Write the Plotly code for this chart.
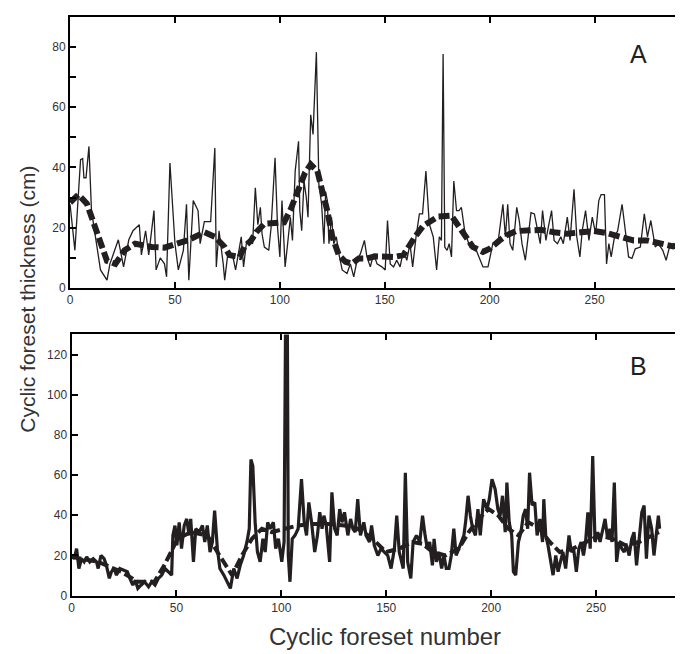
import plotly.graph_objects as go

# ---------------- data ----------------
a_raw_x = [0, 2.3, 5, 6, 6.6, 7.6, 9, 10.2, 14.5, 17.6, 19, 23, 25.5, 28, 30, 33, 34, 36, 37.5, 40, 41, 43, 45, 46,
           47.6, 50, 51.6, 54, 55.5, 56.6, 58.7, 61, 62, 64, 67, 69, 69.7, 71, 73, 73.7, 75.2, 77.6, 78.9, 80, 81.6,
           82.7, 84, 85.5, 87, 88.3, 89.5, 90.7, 91.5, 92.6, 94.7, 95.8, 97.7, 98.9, 100, 101, 102.5, 103.7, 105, 106,
           107.3, 108.9, 109.5, 110.4, 111.5, 112.6, 113.4, 114.7, 115.8, 117.4, 118.6, 119.9, 121, 121.8, 122.6,
           123.4, 124.6, 125.7, 126.9, 128.1, 129.7, 132, 133.6, 135.2, 136.8, 138.4, 140.3, 141.5, 143.1, 144.7,
           146.3, 148.6, 150.2, 151.3, 152.6, 154.2, 155.7, 157.3, 158.9, 160.5, 162, 163.3, 164.9, 166.5, 168,
           169.6, 171.2, 173.1, 174.7, 176, 177, 177.8, 178.6, 179.7, 180.7, 181.8, 182.9, 184.2, 185.4, 186.5,
           188.1, 190.5, 193.6, 196.8, 199.2, 201.5, 203.9, 206.3, 207.5, 208.6, 209.7, 211, 212.9, 214.1, 215.4,
           217, 218.5, 219.7, 221.3, 222.5, 224.1, 225.2, 226.8, 227.9, 229.5, 230.7, 232.3, 233.9, 235.1, 237,
           238.3, 240.2, 241.5, 243, 244.1, 245.7, 247.3, 248.9, 250.5, 252, 253.1, 254.7, 255.7, 256.8, 257.9,
           259.5, 261, 263.1, 264.7, 266.2, 267.8, 269.4, 271.8, 273.7, 275.2, 276.8, 278.9, 280.4, 282.5, 284.1,
           285.7, 287.5, 289.1, 290.7, 292.3, 293.5, 294.6, 295.7]
a_raw_y = [27.8, 12.5, 42.6, 43, 36.6, 36.6, 47, 25.7, 6, 2.6, 8, 16, 7, 16, 19, 21, 11, 19, 11, 25.7, 6, 10, 8, 3.7,
           41.5, 14.7, 6, 12.5, 27.8, 2.6, 29, 25.7, 14.7, 22, 22, 46.5, 7, 19, 8, 2.6, 11.4, 10.3, 6, 10.3, 17,
           7, 14.7, 15.8, 14.7, 33.3, 21, 26.8, 18, 13.6, 12.5, 20, 43.2, 20, 10.3, 29, 7, 14.7, 23.5, 15.8,
           38.8, 48.7, 25.7, 19, 35.5, 30, 23.5, 57.5, 51, 78.3, 34.4, 27.8, 14.7, 32, 29,
           14.7, 23.5, 14.7, 17, 11.4, 6, 4.8, 8, 3.7, 9.2, 11.4, 15.8, 10.3, 7, 11.4,
           8, 7, 6, 22.4, 8, 7, 9.2, 7, 12.5, 9.2, 14.7, 7, 17, 24.6, 24.6,
           38.8, 21.3, 17, 6, 17, 15.8, 77.7, 13.6, 12.5, 14.7, 10.3, 35.5, 25.7, 25.7, 26.8,
           19, 13.6, 12.5, 7, 7, 14.7, 14.7, 27.8, 17, 27.8, 14.7, 12.5, 26.8, 22.4, 14.7,
           9.2, 18, 25, 24.6, 20, 14.7, 25.7, 15.8, 20, 25.7, 15.8, 14.7, 17, 14.7, 23.5,
           15.8, 32.8, 17, 10.3, 19, 25.7, 15.8, 23.5, 18, 29, 31, 31, 8, 14.7, 10.3,
           17, 19, 27.8, 19, 10.3, 9.8, 13, 13.6, 24.6, 17, 22.4, 13.6, 14.7, 12.5, 9.2,
           13.6, 14.7, 12.5, 10.3, 15.8, 4.8, 15.8, 17]

a_smooth_x = [0, 4, 8, 12, 15, 17.6, 21.6, 26, 31, 39, 45, 51.6, 56, 64, 69, 73.7, 76, 80.8, 83, 86.3, 88.7, 92.6,
              97.3, 102, 105.2, 109.2, 112, 114.7, 117.9, 120.2, 122.6, 125, 128.1, 131.3, 134.4, 137.6, 141.5,
              145.5, 151, 154.2, 158.9, 162, 164.4, 168.4, 172.3, 175.5, 181.8, 185, 188.1, 192, 196.8, 200,
              204.7, 207.8, 212.6, 217.3, 222, 224.4, 230.7, 237, 243.4, 249.7, 256, 262.3, 268.6, 275, 281.2,
              287.5, 293.9, 295.5]
a_smooth_y = [28.4, 31, 28, 20, 13.6, 9, 8, 12.5, 14.7, 13.6, 13.4, 14.7, 15.8, 18.5, 17, 13.6, 10.9, 10.3, 13.6, 15.8,
              18.5, 21.3, 21.3, 21.8, 26.2, 33.3, 38.3, 41, 38.8, 32.2, 25.7, 17, 10.9, 8.7, 8.1, 9.8, 9.8,
              10.5, 10.5, 10.3, 10.9, 14.7, 17, 20.7, 22.1, 23.7, 24, 20.7, 18, 13.6, 12, 13,
              15.8, 17.4, 18.9, 18.9, 19, 19.3, 18.5, 18, 18.5, 18.9, 18.2, 17, 15.8, 15.8, 14.7,
              13.8, 14.7, 16]

b_raw_x = [0, 1.3, 2.4, 3.5, 4.8, 6, 7.2, 8.7, 10.3, 11.9, 12.7, 14, 15.5, 16.6, 18, 19, 20.3, 21.4, 23, 25, 26.6,
           27.8, 29.2, 30.4, 31.6, 33.2, 34.8, 36.7, 38.2, 39.8, 41.4, 43, 44.5, 46.1, 47.7, 48.3, 49.3, 50.2,
           51.3, 52.4, 53.7, 54.9, 56, 56.8, 58.1, 59.2, 60.8, 62.4, 63.5, 64.7, 66, 67.1, 68.2, 69.5, 70.7,
           72.6, 74.1, 75.7, 77.3, 78.9, 80.4, 82, 83.6, 84.7, 85.5, 86.4, 87.5, 88.6, 89.9, 91.2, 92.3, 93.5,
           94.6, 96.2, 97.3, 98.6, 100.2, 101.3, 102.1, 102.8, 103.3, 104.1, 105.2, 106.5, 108, 109.6, 110.9,
           112, 113.1, 114.4, 115.9, 117.2, 118.3, 119.4, 120.3, 121.4, 123, 124.1, 125.4, 126.6, 127.8, 128.9,
           130.1, 131.7, 133, 134.1, 135.2, 136.4, 137.7, 139.3, 140.4, 142, 143, 144.3, 146, 147.5, 149.1,
           150.7, 152.3, 153.9, 155, 156.2, 158.1, 159.1, 160.2, 161.7, 162.8, 164.4, 166, 167.3, 168.5, 169.6,
           170.7, 172, 172.8, 173.9, 175.1, 176.4, 177.5, 178.6, 179.9, 181, 182.2, 183.3, 184.6, 185.9, 187,
           187.8, 189, 190.1, 191.2, 192.5, 193.7, 194.8, 196.4, 198, 199.1, 200.4, 201.9, 203.2, 204.3, 205.4,
           206.7, 207.5, 208.6, 209.8, 210.6, 211.7, 213, 214.2, 215.3, 216.4, 217.4, 218.3, 219.5, 220.8,
           221.9, 223.2, 224.5, 225.1, 226, 227.1, 228.3, 229.5, 230.8, 231.9, 233, 234.2, 235.5, 237.1, 238.2,
           239.3, 240.6, 241.8, 242.9, 244, 245, 246.1, 247.2, 248.4, 249.5, 250.8, 251.9, 253.2, 254.3, 255.5,
           256.6, 257.6, 258.7, 259.8, 261, 262.3, 263.4, 264.5, 265.8, 267, 268.1, 269.3, 270.5, 271.8, 272.9,
           274, 275.2, 276.5, 277.6, 278.7, 279.7, 280.3]
b_raw_y = [20, 18.4, 23.4, 13.5, 18.4, 16.8, 19.3, 16.8, 18.4, 16.8, 13.5, 20, 18.4, 15.1, 8.6, 11.9, 13.5, 10.2, 13.5,
           12.7, 11.9, 8.6, 5.3, 7.7, 3.6, 5.3, 6.9, 4.4, 6.9, 5.3, 8.6, 10.2, 13.5, 11.9, 10.2, 30, 34.9, 25,
           36.5, 23.4, 34.9, 38.2, 30, 38.2, 16.8, 33.3, 31.6, 34.9, 26.7, 34.9, 21.7, 26.7, 42.3, 23.4, 13.5,
           10.2, 6.9, 3.6, 13.5, 8.6, 15.1, 20, 26.7, 33.3, 67.8, 64.5, 36.5, 21.7, 16.8, 28.3, 21.7, 36.5,
           33.3, 36.5, 23.4, 28.3, 16.8, 26.7, 150, 150, 20, 6.9, 28.3, 30, 33.3, 58, 36.5,
           30, 46.4, 36.5, 21.7, 30, 41.5, 33.3, 39.8, 34.9, 16.8, 51.4, 33.3, 30, 43.1, 36.5,
           41.5, 30, 38.2, 33.3, 31.6, 48, 30, 36.5, 30, 26.7, 34.9, 25, 20, 23.4, 21.7,
           20, 13.5, 23.4, 39.8, 21.7, 13.5, 61.2, 16.8, 8.6, 26.7, 30, 26.7, 39.8, 30, 23.4,
           26.7, 15.1, 28.3, 16.8, 21.7, 13.5, 20, 13.5, 13.5, 20, 33.3, 20, 23.4, 26.7, 30,
           36.5, 49.7, 39.8, 33.3, 30, 43.1, 30, 48, 43.1, 48, 58, 53, 43.1, 39.8, 49.7,
           31.6, 56.3, 36.5, 30, 11.9, 10.2, 26.7, 31.6, 39.8, 43.1, 33.3, 61.2, 45, 46.4,
           30, 38.2, 26.7, 48, 30, 25, 16.8, 10.2, 20, 11.9, 16.8, 21.7, 13.5, 30, 21.7,
           23.4, 11.9, 23.4, 26.7, 20, 26.7, 41.5, 23.4, 69.5, 26.7, 31.6, 26.7, 33.3, 38.2, 28.3,
           33.3, 26.7, 56.3, 16.8, 26.7, 23.4, 21.7, 25, 20, 28.3, 31.6, 15.1, 30, 41.5, 44.8,
           18.4, 39.8, 33.3, 20, 31.6, 39.8, 33.3]

b_smooth_x = [0, 12.7, 23.7, 31.6, 39.5, 44.2, 47.4, 50.5, 56.8, 64.7, 69.5, 74.2, 76.5, 81.2, 86, 90.7, 95.4, 101.7,
              108, 114.4, 122.2, 130.1, 136.4, 142.7, 149.9, 156.2, 162.5, 167.3, 172, 178.3, 184.6, 189.3, 194,
              198.8, 203.5, 208.2, 213, 217.7, 223.2, 227.9, 232.7, 239, 245.3, 251.6, 257.9, 264.2, 270.5,
              276.8, 280]
b_smooth_y = [19.3, 16.8, 11.9, 6.9, 6.9, 15.1, 21.7, 28.3, 31.6, 30, 21.7, 14.3, 10.2, 20, 28.3, 33.3, 31.6, 33.3,
              34.9, 35.7, 35.7, 34.9, 33.3, 29.1, 21.7, 23.4, 26.7, 25.8, 21.7, 20, 23.4, 31.6, 38.2,
              43.1, 39.8, 33.3, 30, 36.5, 33.3, 26.7, 21.7, 23.4, 26.7, 30, 28.3, 25, 26.7,
              30, 31.6]

x_ticks = [0, 50, 100, 150, 200, 250]
a_y_ticks = [0, 10, 20, 30, 40, 50, 60, 70, 80]
a_y_labels = ["0", "", "20", "", "40", "", "60", "", "80"]
b_y_ticks = [0, 20, 40, 60, 80, 100, 120]
x_title = "Cyclic foreset number"
y_title = "Cyclic foreset thickness (cm)"
panel_labels = ["A", "B"]

# ---------------- figure ----------------
W, H = 683, 654
INK = "#231f20"
FONT = "Liberation Sans, Arial, Helvetica, sans-serif"

fig = go.Figure()
fig.add_trace(go.Scatter(x=a_raw_x, y=a_raw_y, mode="lines", line=dict(color=INK, width=1.3),
                         xaxis="x", yaxis="y", showlegend=False))
fig.add_trace(go.Scatter(x=a_smooth_x, y=a_smooth_y, mode="lines", line=dict(color=INK, width=6, dash="11px,4px"),
                         xaxis="x", yaxis="y", showlegend=False))
fig.add_trace(go.Scatter(x=b_raw_x, y=b_raw_y, mode="lines", line=dict(color=INK, width=3.2),
                         xaxis="x2", yaxis="y2", showlegend=False))
fig.add_trace(go.Scatter(x=b_smooth_x, y=b_smooth_y, mode="lines", line=dict(color=INK, width=4, dash="10px,4px"),
                         xaxis="x2", yaxis="y2", showlegend=False))

ax_common = dict(showline=True, linewidth=2, linecolor="black", mirror="ticks", ticks="inside",
                 ticklen=6, tickwidth=1.5, tickcolor="black", showgrid=False, zeroline=False,
                 tickfont=dict(family=FONT, size=12, color="#333333"))

fig.update_layout(
    width=W, height=H,
    margin=dict(l=0, r=0, t=0, b=0),
    paper_bgcolor="white", plot_bgcolor="white",
    xaxis=dict(domain=[59.5 / W, 1.0], range=[0, 295], anchor="y", tickvals=x_ticks, **ax_common),
    yaxis=dict(domain=[1 - 283 / H, 1 - 9 / H], range=[0, 90], anchor="x",
               tickvals=a_y_ticks, ticktext=a_y_labels, **ax_common),
    xaxis2=dict(domain=[61 / W, 1.0], range=[0, 294.3], anchor="y2", tickvals=x_ticks, **ax_common),
    yaxis2=dict(domain=[1 - 594 / H, 1 - 330 / H], range=[0, 130], anchor="x2",
                tickvals=b_y_ticks, **ax_common),
    annotations=[
        dict(text=panel_labels[0], x=632 / W, y=1 - 47 / H, xref="paper", yref="paper", showarrow=False,
             font=dict(family=FONT, size=25, color=INK), xanchor="center", yanchor="middle"),
        dict(text=panel_labels[1], x=632 / W, y=1 - 362 / H, xref="paper", yref="paper", showarrow=False,
             font=dict(family=FONT, size=25, color=INK), xanchor="center", yanchor="middle"),
        dict(text=x_title, x=377 / W, y=1 - 635 / H, xref="paper", yref="paper", showarrow=False,
             font=dict(family=FONT, size=24, color="#333333"), xanchor="center", yanchor="middle"),
        dict(text=y_title, x=17 / W, y=1 - 294 / H, xref="paper", yref="paper", showarrow=False, textangle=-90,
             font=dict(family=FONT, size=21, color="#333333"), xanchor="center", yanchor="middle"),
    ],
)

fig.write_html("out.html")
